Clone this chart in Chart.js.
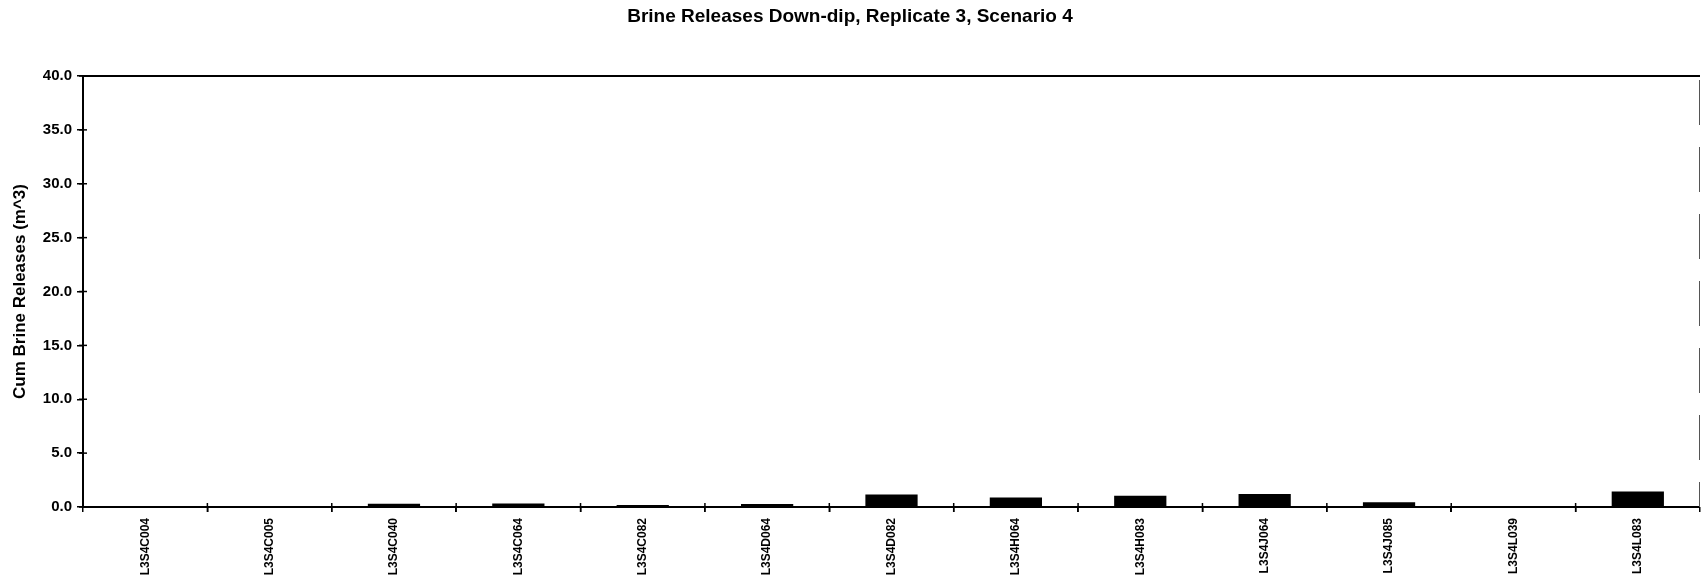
<!DOCTYPE html>
<html>
<head>
<meta charset="utf-8">
<script src="https://cdn.jsdelivr.net/npm/chart.js@4"></script>
<style>
  html, body { margin: 0; padding: 0; background: #fff; }
  #wrap { width: 1701px; height: 579px; }
</style>
</head>
<body>
<div id="wrap"><canvas id="c" width="1701" height="579"></canvas></div>
<script>
const categories = ["L3S4C004","L3S4C005","L3S4C040","L3S4C064","L3S4C082","L3S4D064","L3S4D082","L3S4H064","L3S4H083","L3S4J064","L3S4J085","L3S4L039","L3S4L083"];
const releases = [0.05, 0.03, 0.30, 0.32, 0.18, 0.28, 1.15, 0.88, 1.05, 1.20, 0.45, 0.02, 1.45];
const yTicks = [0, 5, 10, 15, 20, 25, 30, 35, 40];
const chartTitle = "Brine Releases Down-dip, Replicate 3, Scenario 4";
const yTitle = "Cum Brine Releases (m^3)";

const FONT = "'Liberation Sans', Arial, sans-serif";

const frameAndTicks = {
  id: 'frameAndTicks',
  afterDatasetsDraw(chart) {
    const ctx = chart.ctx;
    const a = chart.chartArea;
    const x = chart.scales.x, y = chart.scales.y;
    ctx.save();
    ctx.strokeStyle = '#000';
    ctx.lineWidth = 2;
    ctx.beginPath();
    ctx.moveTo(a.left, a.top);
    ctx.lineTo(a.right, a.top);
    ctx.stroke();
    ctx.beginPath();
    ctx.moveTo(a.left, a.top);
    ctx.lineTo(a.left, a.bottom);
    ctx.lineTo(a.right, a.bottom);
    ctx.stroke();
    ctx.strokeStyle = '#555';
    ctx.lineWidth = 1;
    ctx.setLineDash([45, 22]);
    ctx.beginPath();
    ctx.moveTo(a.right - 0.5, a.top + 4);
    ctx.lineTo(a.right - 0.5, a.bottom);
    ctx.stroke();
    ctx.setLineDash([]);
    ctx.strokeStyle = '#000';
    ctx.lineWidth = 1.5;
    yTicks.forEach(v => {
      const py = y.getPixelForValue(v);
      ctx.beginPath();
      ctx.moveTo(a.left - 4, py);
      ctx.lineTo(a.left + 4, py);
      ctx.stroke();
    });
    const step = x.getPixelForValue(1) - x.getPixelForValue(0);
    for (let i = 1; i < categories.length; i++) {
      const px = x.getPixelForValue(i) - step / 2;
      ctx.beginPath();
      ctx.moveTo(px, a.bottom - 4);
      ctx.lineTo(px, a.bottom + 5);
      ctx.stroke();
    }
    ctx.restore();
  }
};

new Chart(document.getElementById('c'), {
  type: 'bar',
  data: {
    labels: categories,
    datasets: [{
      data: releases,
      backgroundColor: '#000',
      borderWidth: 0,
      barPercentage: 0.42,
      categoryPercentage: 1.0
    }]
  },
  options: {
    responsive: false,
    animation: false,
    devicePixelRatio: 1,
    layout: { padding: { left: 0, right: 1, top: 0, bottom: 0 } },
    plugins: {
      legend: { display: false },
      tooltip: { enabled: false },
      title: {
        display: true,
        text: chartTitle,
        color: '#000',
        font: { family: FONT, size: 19, weight: 'bold', lineHeight: 1.2 },
        padding: { top: 5, bottom: 48.2 }
      }
    },
    scales: {
      x: {
        grid: { display: true, drawOnChartArea: false, drawTicks: true, tickLength: 5, color: '#000', lineWidth: 1.5, offset: true },
        border: { display: false },
        ticks: {
          autoSkip: false,
          minRotation: 90,
          maxRotation: 90,
          padding: 6,
          color: '#000',
          font: { family: FONT, size: 12, weight: 'bold' }
        },
        afterFit(s) { s.height = 72; }
      },
      y: {
        min: 0,
        max: 40,
        grid: { display: true, drawOnChartArea: false, drawTicks: true, tickLength: 6, color: '#000', lineWidth: 1.5 },
        border: { display: false },
        ticks: {
          stepSize: 5,
          padding: 5,
          color: '#000',
          font: { family: FONT, size: 15, weight: 'bold' },
          callback: v => Number(v).toFixed(1)
        },
        title: {
          display: true,
          text: yTitle,
          color: '#000',
          font: { family: FONT, size: 17, weight: 'bold', lineHeight: 1.2 },
          padding: { top: 10, bottom: 0 }
        },
        afterFit(s) { s.width = 83; }
      }
    }
  },
  plugins: [frameAndTicks]
});
</script>
</body>
</html>
